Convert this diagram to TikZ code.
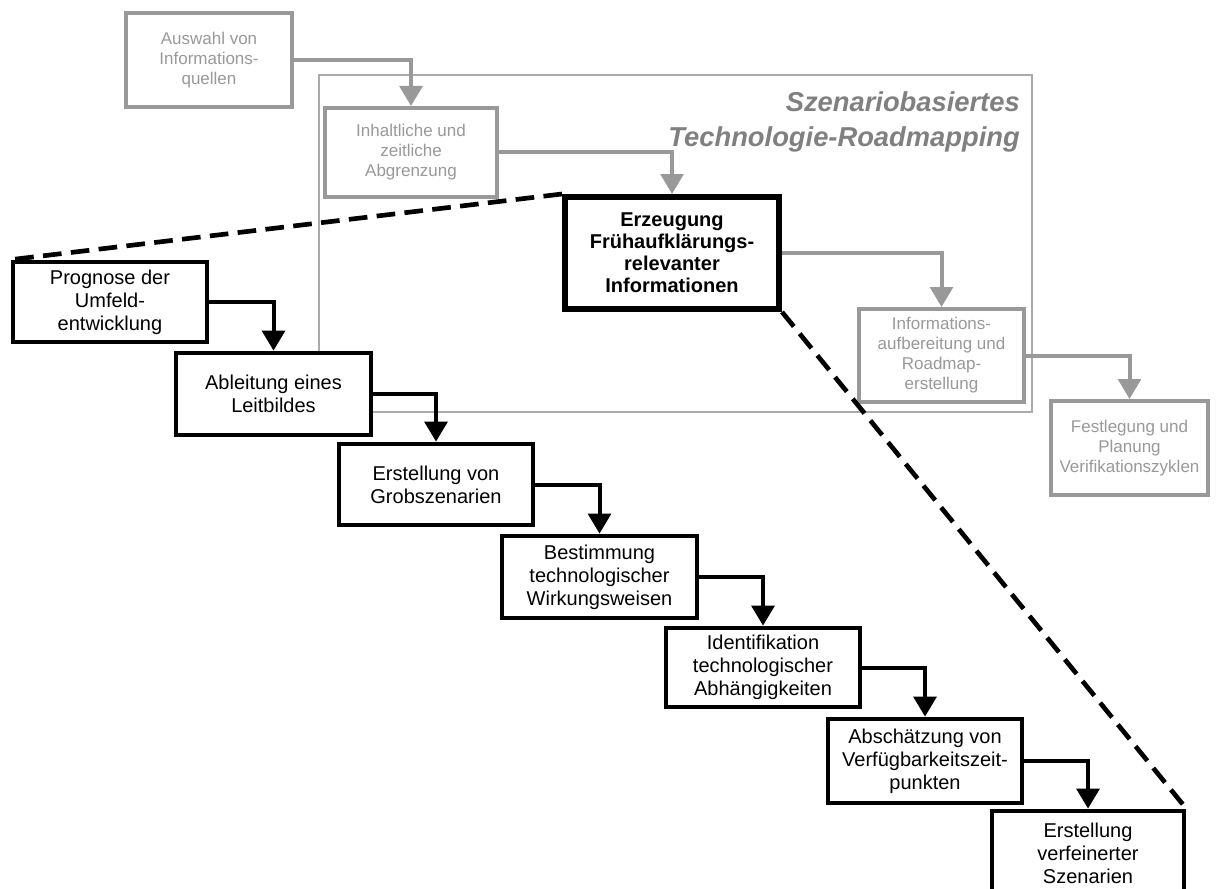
\documentclass[tikz,border=0pt]{standalone}
\usepackage{fontspec}
\setmainfont{Liberation Sans}
\usetikzlibrary{arrows.meta}
\definecolor{boxgray}{RGB}{153,153,153}
\definecolor{titlegray}{RGB}{128,128,128}
\definecolor{framegray}{RGB}{170,170,170}
\begin{document}
\begin{tikzpicture}[x=0.75pt,y=-0.75pt,
        sz/.style 2 args={minimum width=#1*0.75pt,minimum height=#2*0.75pt},
        gbox/.style={draw=boxgray,fill=white,line width=3pt,text=boxgray,align=center,inner sep=0pt,
          font=\fontsize{12.75}{15}\selectfont},
        bbox/.style={draw=black,fill=white,line width=3.5pt,align=center,inner sep=0pt,
          font=\fontsize{15}{17.25}\selectfont},
        garr/.style={draw=boxgray,line width=3pt,-{Triangle[width=17pt,length=15pt]}},
        barr/.style={draw=black,line width=3pt,-{Triangle[width=17pt,length=15pt]}},
        zoomline/.style={line width=3.5pt,dash pattern=on 14pt off 7pt}]
        \useasboundingbox(0,0)rectangle(1216,888);
        \draw[framegray,line width=1.5pt](319,75)rectangle(1032,412);
        \node[titlegray,anchor=east,align=right,inner sep=0pt,
          font=\fontsize{20.5}{26}\selectfont\bfseries\itshape]
          (titel)at(1020,122){Szenariobasiertes\\Technologie-Roadmapping};
        \node[gbox,sz={166}{94}](auswahl)at(209,60){Auswahl von\\Informations-\\quellen};
        \node[gbox,sz={172}{89}](inhalt)at(411,152.5){Inhaltliche und\\zeitliche\\Abgrenzung};
        \node[bbox,sz={214}{112},line width=4.5pt,font=\fontsize{15}{16.5}\selectfont\bfseries]
          (erzeug)at(672,253){Erzeugung\\Frühaufklärungs-\\relevanter\\Informationen};
        \node[gbox,sz={165}{93}](aufber)at(941.5,355.5){Informations-\\aufbereitung und\\Roadmap-\\erstellung};
        \node[gbox,sz={157}{94}](festl)at(1129.5,448){Festlegung und\\Planung\\Verifikationszyklen};
        \node[bbox,sz={194}{80}](prog)at(110,302){Prognose der\\Umfeld-\\entwicklung};
        \node[bbox,sz={195}{82}](ableit)at(273.5,394){Ableitung eines\\Leitbildes};
        \node[bbox,sz={194}{81}](grob)at(436,484.5){Erstellung von\\Grobszenarien};
        \node[bbox,sz={195}{82}](bestim)at(599.5,577){Bestimmung\\technologischer\\Wirkungsweisen};
        \node[bbox,sz={194}{79}](ident)at(763,667.5){Identifikation\\technologischer\\Abhängigkeiten};
        \node[bbox,sz={194}{84}](absch)at(925,761){Abschätzung von\\Verfügbarkeitszeit-\\punkten};
        \node[bbox,sz={192}{84}](verfein)at(1088,853){Erstellung\\verfeinerter\\Szenarien};
        \draw[garr](auswahl.east)-|(inhalt.north);
        \draw[garr](inhalt.east)-|(erzeug.north);
        \draw[garr](erzeug.east)-|(aufber.north);
        \draw[garr](aufber.east)-|(festl.north);
        \draw[barr](prog.east)-|(ableit.north);
        \draw[barr](ableit.east)-|(grob.north);
        \draw[barr](grob.east)-|(bestim.north);
        \draw[barr](bestim.east)-|(ident.north);
        \draw[barr](ident.east)-|(absch.north);
        \draw[barr](absch.east)-|(verfein.north);
        \draw[zoomline](erzeug.north west)--(prog.north west);
        \draw[zoomline](erzeug.south east)--(verfein.north east);
        \end{tikzpicture}
\end{document}
